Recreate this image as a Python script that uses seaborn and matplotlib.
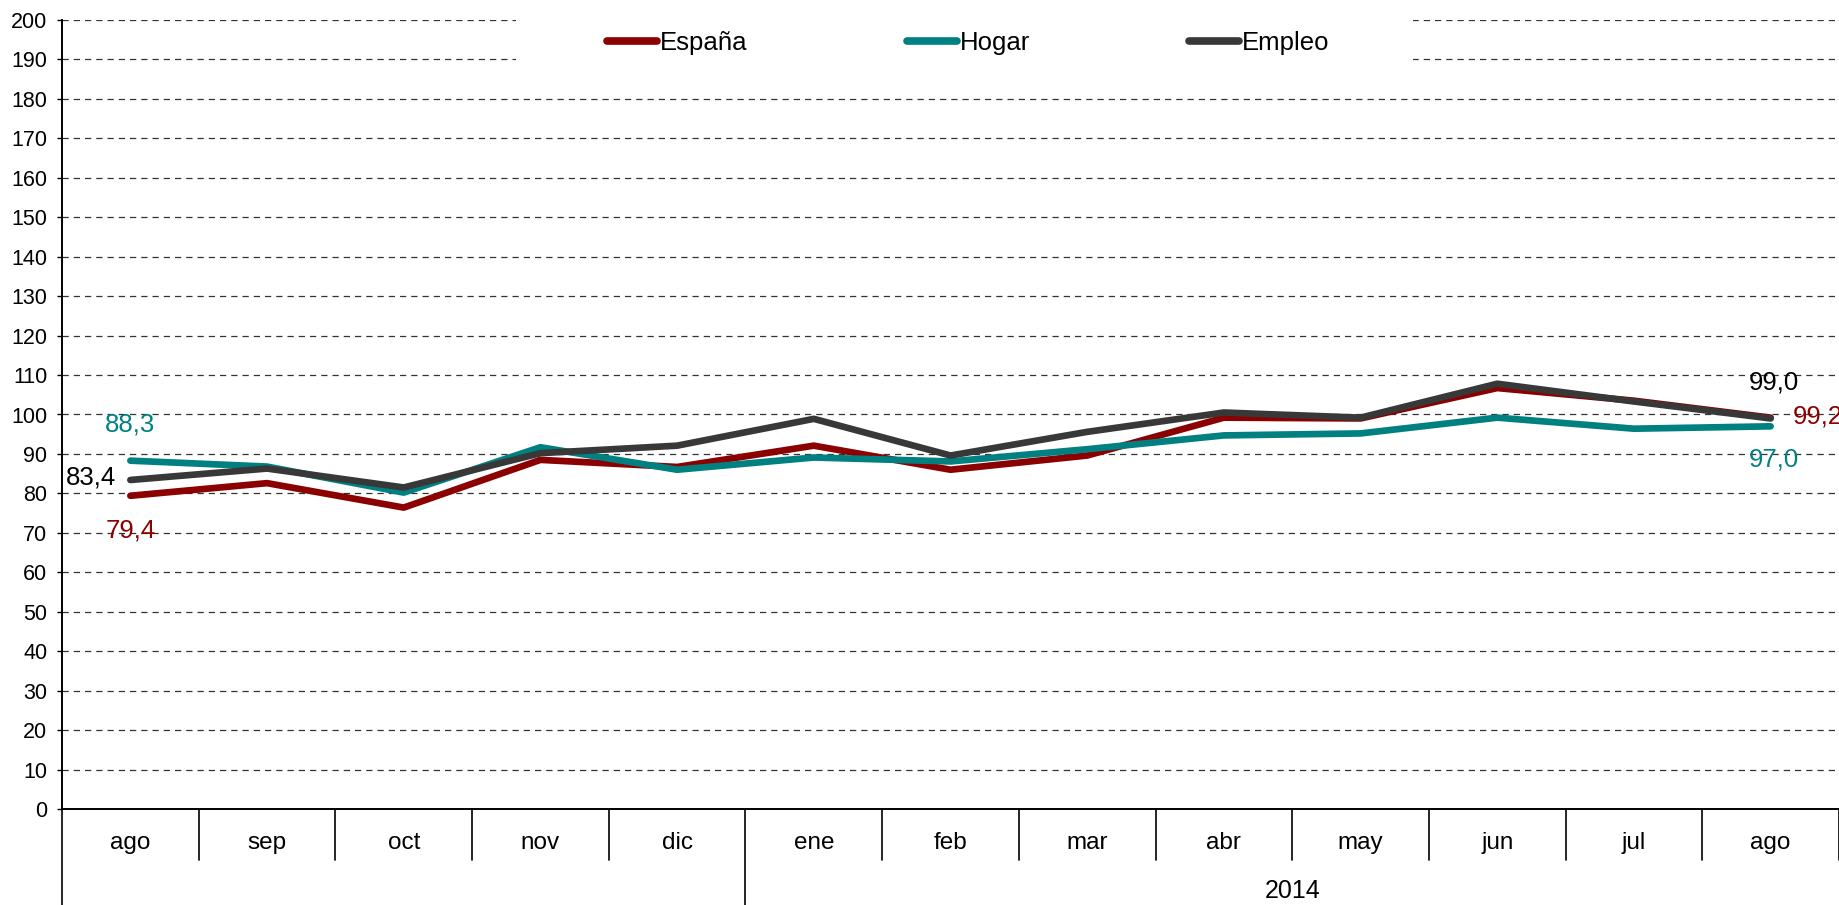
import numpy as np
import pandas as pd
import matplotlib
matplotlib.use("Agg")
import matplotlib.pyplot as plt
import matplotlib.transforms as mtransforms
from matplotlib.patches import Rectangle
import seaborn as sns

# datos
meses = ["ago", "sep", "oct", "nov", "dic", "ene", "feb", "mar", "abr", "may", "jun", "jul", "ago"]
anio = "2014"
espana = [79.4, 82.6, 76.4, 88.5, 86.7, 92.1, 86.0, 89.6, 99.2, 99.0, 106.7, 103.5, 99.2]
hogar = [88.3, 86.8, 80.2, 91.7, 86.0, 89.1, 88.1, 91.2, 94.7, 95.2, 99.2, 96.4, 97.0]
empleo = [83.4, 86.3, 81.5, 90.2, 92.1, 98.9, 89.6, 95.6, 100.5, 99.2, 107.8, 103.3, 99.0]
series = ["España", "Hogar", "Empleo"]
colores = {"España": "#8B0000", "Hogar": "#008080", "Empleo": "#383838"}
colores_etiqueta = {"España": "#8B0000", "Hogar": "#008080", "Empleo": "#000000"}

sns.set_theme(style="white")
plt.rcParams["font.family"] = ["Liberation Sans", "DejaVu Sans"]
plt.rcParams["text.color"] = "black"

df = pd.DataFrame({
    "pos": list(range(len(meses))) * 3,
    "valor": espana + hogar + empleo,
    "serie": [s for s in series for _ in meses],
})

fig = plt.figure(figsize=(18.39, 9.05), dpi=100)
ax = fig.add_axes([62 / 1839, 96 / 905, 1 - 62 / 1839, 789 / 905])

sns.lineplot(data=df, x="pos", y="valor", hue="serie", palette=colores,
             hue_order=series, linewidth=4.8, sort=False, ax=ax, legend=True,
             zorder=3)

ax.set_xlim(-0.5, len(meses) - 0.5)
ax.set_ylim(0, 200)
ax.set_yticks(np.arange(0, 201, 10))
ax.set_xticks([])
ax.set_xlabel("")
ax.set_ylabel("")
ax.tick_params(axis="y", which="both", left=True, length=3.6, width=1, pad=7,
               labelsize=15.5, colors="black")
for t in np.arange(10, 201, 10):
    ax.axhline(t, color="#333333", lw=0.9, ls=(0, (5, 4)), zorder=1)
for s in ["top", "right"]:
    ax.spines[s].set_visible(False)
for s in ["left", "bottom"]:
    ax.spines[s].set_color("black")
    ax.spines[s].set_linewidth(1.4)

# zona blanca detras de la leyenda
ax.add_patch(Rectangle((0.2555, 0.93), 0.5045, 0.1, transform=ax.transAxes,
                       facecolor="white", edgecolor="none", zorder=2, clip_on=False))

handles, labels = ax.get_legend_handles_labels()
leg = ax.legend(handles, labels, ncol=3, loc="center", bbox_to_anchor=(0.51, 0.971),
                frameon=False, fontsize=18.5, handlelength=1.95, handletextpad=0.1,
                columnspacing=6.2)
for h in leg.legend_handles:
    h.set_linewidth(5.5)
    h.set_solid_capstyle("round")

# eje de categorias debajo
tr = mtransforms.blended_transform_factory(ax.transData, ax.transAxes)
y_m = -51 / 789
y_full = -96 / 789
for i in range(len(meses) + 1):
    b = i - 0.5
    bottom = y_full if i in (0, 5) else y_m
    ax.plot([b, b], [0, bottom], color="black", lw=1.2, transform=tr, clip_on=False)
for i, m in enumerate(meses):
    ax.text(i, -34 / 789, m, transform=tr, ha="center", va="center", fontsize=17.5)
ax.text((4.5 + 12.5) / 2, -82 / 789, anio, transform=tr, ha="center", va="center",
        fontsize=18)

# etiquetas de datos
def fmt(v):
    return f"{v:.1f}".replace(".", ",")

fs = 18.5
ax.text(0, 70.7, fmt(espana[0]), color=colores_etiqueta["España"], ha="center",
        va="center", fontsize=fs)
ax.text(0, 97.5, fmt(hogar[0]), color=colores_etiqueta["Hogar"], ha="center",
        va="center", fontsize=fs)
ax.text(-0.47, 84.0, fmt(empleo[0]), color=colores_etiqueta["Empleo"], ha="left",
        va="center", fontsize=fs)
ax.text(12.02, 108.0, fmt(empleo[-1]), color=colores_etiqueta["Empleo"], ha="center",
        va="center", fontsize=fs)
ax.text(12.02, 88.6, fmt(hogar[-1]), color=colores_etiqueta["Hogar"], ha="center",
        va="center", fontsize=fs)
ax.text(12.16, 99.4, fmt(espana[-1]), color=colores_etiqueta["España"], ha="left",
        va="center", fontsize=fs, clip_on=False)

fig.savefig("out.png", dpi=100)
plt.close(fig)
